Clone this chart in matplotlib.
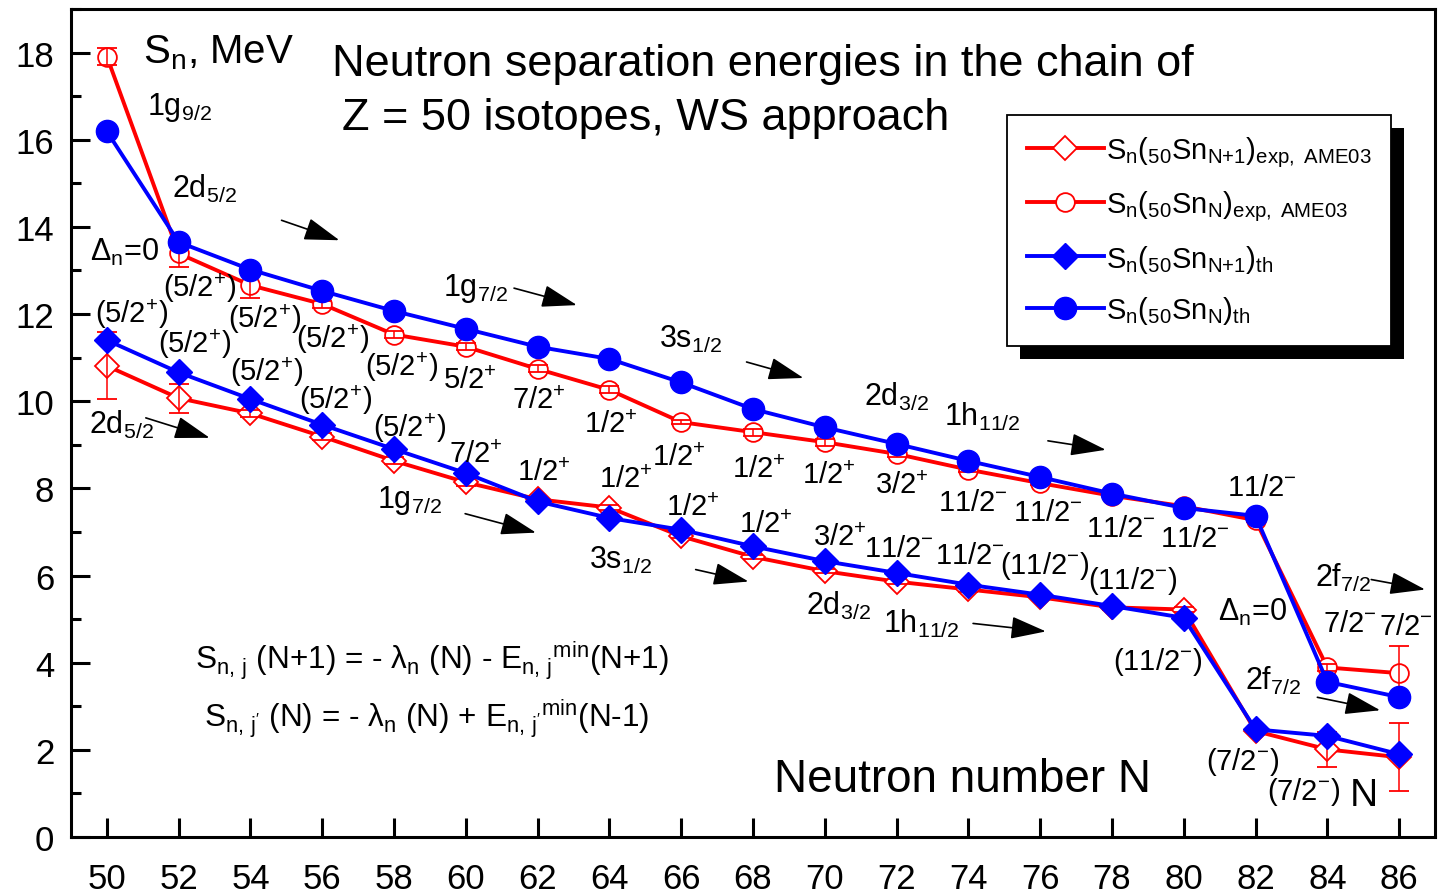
import matplotlib
matplotlib.use('Agg')
import matplotlib.pyplot as plt
from matplotlib.ticker import MultipleLocator
from matplotlib.patches import Rectangle

plt.rcParams['font.family'] = ['Liberation Sans', 'DejaVu Sans']
plt.rcParams['mathtext.fontset'] = 'custom'
plt.rcParams['mathtext.rm'] = 'Liberation Sans'
plt.rcParams['mathtext.it'] = 'Liberation Sans'
plt.rcParams['mathtext.sf'] = 'Liberation Sans'
plt.rcParams['mathtext.bf'] = 'Liberation Sans:bold'

# neutron number N
N = list(range(50, 87, 2))

# S_n(50Sn_N+1) experimental, AME03 (open diamonds) and errors
sn1_exp = [10.81, 10.07, 9.72, 9.19, 8.63, 8.14, 7.75, 7.56, 6.90, 6.43,
           6.10, 5.86, 5.68, 5.50, 5.27, 5.22, 2.43, 2.01, 1.83]
sn1_err = [0.77, 0.33, 0.08, 0.08, 0.08, 0.08, 0.05, 0.05, 0.05, 0.05,
           0.05, 0.05, 0.05, 0.05, 0.05, 0.05, 0.05, 0.41, 0.78]
# S_n(50Sn_N) experimental, AME03 (open circles) and errors
sn_exp = [17.91, 13.39, 12.66, 12.23, 11.53, 11.25, 10.74, 10.26, 9.52, 9.29,
          9.06, 8.79, 8.43, 8.12, 7.83, 7.59, 7.27, 3.89, 3.76]
sn_err = [0.20, 0.31, 0.30, 0.08, 0.08, 0.08, 0.08, 0.08, 0.05, 0.08,
          0.08, 0.08, 0.05, 0.05, 0.05, 0.05, 0.05, 0.08, 0.62]
# theory, WS approach
sn1_th = [11.40, 10.66, 10.05, 9.46, 8.90, 8.35, 7.70, 7.32, 7.05, 6.67,
          6.33, 6.06, 5.79, 5.56, 5.30, 5.03, 2.47, 2.32, 1.90]
sn_th = [16.19, 13.65, 13.02, 12.53, 12.07, 11.66, 11.25, 10.97, 10.43, 9.82,
         9.40, 9.02, 8.63, 8.26, 7.88, 7.55, 7.37, 3.56, 3.21]

# spin-parity labels near S_n(N) (upper) and S_n(N+1) (lower) curves
upper_j = ['(5/2+)', '(5/2+)', '(5/2+)', '(5/2+)', '5/2+', '7/2+', '1/2+', '1/2+',
           '1/2+', '1/2+', '3/2+', '11/2-', '11/2-', '11/2-', '11/2-', '11/2-',
           '7/2-', '7/2-']
lower_j = ['(5/2+)', '(5/2+)', '(5/2+)', '(5/2+)', '(5/2+)', '7/2+', '1/2+', '1/2+',
           '1/2+', '1/2+', '3/2+', '11/2-', '11/2-', '(11/2-)', '(11/2-)', '(11/2-)',
           '(7/2-)', '(7/2-)']

# label anchors in image pixels (left, baseline)
upper_pos = [(163, 296), (228, 327), (297, 347), (366, 375), (444, 388), (513, 408),
             (585, 432), (653, 465), (733, 477), (804, 483), (877, 493), (940, 510),
             (1015, 520), (1088, 536), (1162, 546), (1229, 495), (1326, 632), (1382, 635)]
lower_pos = [(95, 322), (158, 352), (230, 380), (300, 408), (374, 436), (450, 462),
             (518, 480), (600, 487), (667, 515), (740, 532), (815, 545), (866, 556),
             (937, 563), (1002, 573), (1090, 588), (1115, 670), (1208, 770), (1270, 800)]


def at(xp, yp):
    # image pixel -> data coordinates
    return 50 + (xp - 107) / 35.97, (838 - yp) / 43.67


def jtex(s):
    s = s.replace('+', '^{+}').replace('-', '^{-}')
    return '$\\mathregular{' + s + '}$'


fig = plt.figure(figsize=(14.38, 8.95), dpi=100)
ax = fig.add_axes([71 / 1438, 57 / 895, 1364 / 1438, 828 / 895])

e1 = ax.errorbar(N, sn1_exp, yerr=sn1_err, fmt='-D', color='red', mfc='white', mec='red',
                 mew=1.3, ms=12.5, lw=2.8, ecolor='red', elinewidth=1.1, capsize=7,
                 capthick=1.1, barsabove=True)
e2 = ax.errorbar(N, sn_exp, yerr=sn_err, fmt='-o', color='red', mfc='white', mec='red',
                 mew=1.3, ms=13.5, lw=2.8, ecolor='red', elinewidth=1.1, capsize=7,
                 capthick=1.1, barsabove=True)
l3, = ax.plot(N, sn1_th, '-D', color='blue', ms=13.5, lw=2.8)
l4, = ax.plot(N, sn_th, '-o', color='blue', ms=16, lw=2.8)

ax.set_xlim(49, 87)
ax.set_ylim(0, 19)
ax.set_xticks(N)
ax.yaxis.set_major_locator(MultipleLocator(2))
ax.yaxis.set_minor_locator(MultipleLocator(1))
ax.tick_params(axis='both', which='major', direction='in', length=14, width=2.2,
               labelsize=25, top=False, right=False)
ax.tick_params(axis='x', pad=18)
ax.tick_params(axis='y', pad=12)
ax.tick_params(axis='y', which='minor', direction='in', length=7, width=2.2, right=False)
for sp in ax.spines.values():
    sp.set_linewidth(2.2)

for s, (xp, yp) in zip(upper_j, upper_pos):
    ax.text(*at(xp, yp), jtex(s), fontsize=21, va='baseline', ha='left')
for s, (xp, yp) in zip(lower_j, lower_pos):
    ax.text(*at(xp, yp), jtex(s), fontsize=21, va='baseline', ha='left')

# orbital labels with arrows
orbitals = [
    (r'$\mathregular{1g_{9/2}}$', (147, 113), None),
    (r'$\mathregular{2d_{5/2}}$', (172, 197), ((282, 220), (340, 240))),
    (r'$\mathregular{1g_{7/2}}$', (444, 295), ((515, 288), (578, 305))),
    (r'$\mathregular{3s_{1/2}}$', (660, 347), ((748, 362), (805, 378))),
    (r'$\mathregular{2d_{3/2}}$', (866, 405), None),
    (r'$\mathregular{1h_{11/2}}$', (946, 425), ((1050, 441), (1108, 450))),
    (r'$\mathregular{2f_{7/2}}$', (1318, 586), ((1374, 580), (1428, 590))),
    (r'$\mathregular{2d_{5/2}}$', (89, 433), ((146, 418), (210, 438))),
    (r'$\mathregular{1g_{7/2}}$', (378, 507), ((466, 514), (537, 533))),
    (r'$\mathregular{3s_{1/2}}$', (590, 568), ((697, 570), (750, 582))),
    (r'$\mathregular{2d_{3/2}}$', (808, 614), None),
    (r'$\mathregular{1h_{11/2}}$', (885, 632), ((975, 624), (1048, 632))),
    (r'$\mathregular{2f_{7/2}}$', (1247, 690), ((1320, 698), (1383, 711))),
    (r'$\mathregular{\Delta_n}$=0', (90, 260), None),
    (r'$\mathregular{\Delta_n}$=0', (1220, 620), None),
]
for s, (xp, yp), arr in orbitals:
    ax.text(*at(xp, yp), s, fontsize=22, va='baseline', ha='left')
    if arr is not None:
        ax.annotate('', xy=at(*arr[1]), xytext=at(*arr[0]),
                    arrowprops=dict(arrowstyle='-|>,head_length=1.1,head_width=0.35',
                                    color='black', lw=1.2, mutation_scale=20,
                                    shrinkA=0, shrinkB=0))

ax.text(*at(143, 62), r'$\mathregular{S_n}$, MeV', fontsize=29, va='baseline', ha='left')
ax.text(*at(333, 74), 'Neutron separation energies in the chain of', fontsize=32.5,
        va='baseline', ha='left')
ax.text(*at(343, 129), 'Z = 50 isotopes, WS approach', fontsize=32.5, va='baseline', ha='left')
ax.text(*at(776, 792), 'Neutron number N', fontsize=33, va='baseline', ha='left')
ax.text(*at(1352, 806), 'N', fontsize=28, va='baseline', ha='left')
ax.text(*at(195, 670),
        r'$\mathregular{S_{n,\,j}}$ (N+1) = - $\mathregular{\lambda_n}$ (N) - '
        r'$\mathregular{E_{n,\,j}{}^{min}}$(N+1)',
        fontsize=22.7, va='baseline', ha='left')
ax.text(*at(204, 728),
        r"$\mathregular{S_{n,\,j'}}$ (N) = - $\mathregular{\lambda_n}$ (N) + "
        r"$\mathregular{E_{n,\,j'}{}^{min}}$(N-1)",
        fontsize=22.7, va='baseline', ha='left')

labels = [r'$\mathregular{S_n(_{50}Sn_{N{+}1})_{exp,\ AME03}}$',
          r'$\mathregular{S_n(_{50}Sn_{N})_{exp,\ AME03}}$',
          r'$\mathregular{S_n(_{50}Sn_{N{+}1})_{th}}$',
          r'$\mathregular{S_n(_{50}Sn_{N})_{th}}$']
leg = ax.legend([e1[0], e2[0], l3, l4], labels, loc='upper left',
                bbox_to_anchor=(1007 / 1438, 1 - 116 / 895), bbox_transform=fig.transFigure,
                borderaxespad=0, fontsize=21, handlelength=2.65, handletextpad=0.05,
                labelspacing=0.66, borderpad=0.68, numpoints=1, fancybox=False,
                framealpha=1, edgecolor='black')
leg.get_frame().set_linewidth(1.3)
leg.set_zorder(5)

fig.canvas.draw()
bb = leg.get_window_extent().transformed(fig.transFigure.inverted())
dx, dy = 13 / 1438, 13 / 895
ax.add_patch(Rectangle((bb.x0 + dx, bb.y0 - dy), bb.width, bb.height, transform=fig.transFigure,
                       facecolor='black', edgecolor='none', zorder=4.9, clip_on=False))

fig.savefig('out.png', dpi=100)
